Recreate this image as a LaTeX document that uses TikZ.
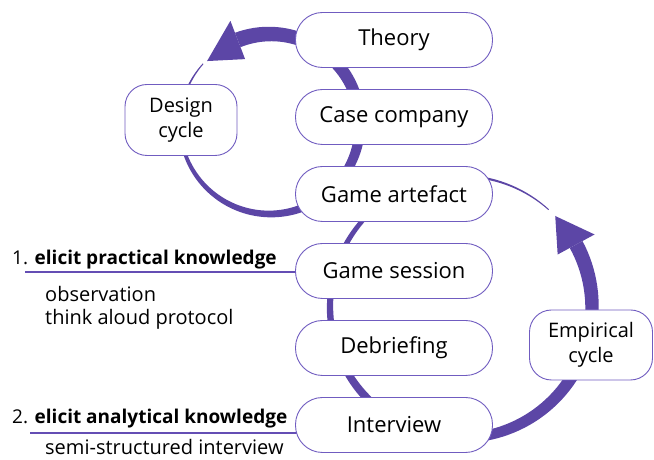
\documentclass[tikz,border=0pt]{standalone}
\usepackage{fontspec}
\setmainfont{Open Sans}

\definecolor{cyclecol}{RGB}{92,70,166}
\definecolor{boxline}{RGB}{112,92,192}
\definecolor{rulecol}{RGB}{100,78,180}

\tikzset{
  stage/.style={draw=boxline, line width=0.9pt, fill=white, rounded corners=27pt,
    minimum width=197pt, minimum height=55pt, font=\fontsize{22}{26}\selectfont},
  cyclebox/.style={draw=boxline, line width=0.9pt, fill=white, rounded corners=22pt,
    minimum height=70pt, align=center, font=\fontsize{20}{25}\selectfont},
  heading/.style={anchor=base west, inner sep=0pt, font=\fontsize{19}{23}\selectfont},
  method/.style={anchor=base west, inner sep=0pt, font=\fontsize{20}{24}\selectfont},
  rule/.style={rulecol, line width=1.6pt},
  % half widths of the two tapering cycle arrows
  declare function={dw(\x)=0.5+7.2*(\x-138)/333;
                    ew(\x)=0.5+6.75*(\x-48)/340.5;}
}

\begin{document}
\begin{tikzpicture}[x=1pt, y=1pt]
  \useasboundingbox (0,0) rectangle (654,460);

  % design cycle arrow
  \fill[cyclecol] plot[domain=138:471, samples=120]
      ({270+(90+dw(\x))*cos(\x)}, {336+(90+dw(\x))*sin(\x)})
    -- plot[domain=471:138, samples=120]
      ({270+(90-dw(\x))*cos(\x)}, {336+(90-dw(\x))*sin(\x)}) -- cycle;
  \begin{scope}[shift={(270,336)}]
    \fill[cyclecol] (111:110.5) -- (135:89) -- (111:69.5) -- cycle;
  \end{scope}

  % empirical cycle arrow
  \fill[cyclecol] plot[domain=48:388.5, samples=140]
      ({461+(131+ew(\x))*cos(\x)}, {153+(131+ew(\x))*sin(\x)})
    -- plot[domain=388.5:48, samples=140]
      ({461+(131-ew(\x))*cos(\x)}, {153+(131-ew(\x))*sin(\x)}) -- cycle;
  \begin{scope}[shift={(461,153)}]
    \fill[cyclecol] (388.5:152) -- (404:131) -- (388.5:110) -- cycle;
  \end{scope}

  % knowledge elicitation labels
  \node[heading] (elicit1) at (12,195) {1. \textbf{elicit practical knowledge}};
  \node[method] (obs) at (45,158) {observation};
  \node[method] (think) at (45,135) {think aloud protocol};
  \node[heading] (elicit2) at (12,36) {2. \textbf{elicit analytical knowledge}};
  \node[method] (semi) at (45,5) {semi-structured interview};

  \coordinate (u1) at (25,188);
  \coordinate (u2) at (30,27);
  \draw[rule] (u1) -- (u1 -| 296,0);
  \draw[rule] (u2) -- (u2 -| 297,0);

  % stages
  \node[stage] (theory) at (394,420) {Theory};
  \node[stage] (case) at (394,343) {Case company};
  \node[stage] (artefact) at (394,266) {Game artefact};
  \node[stage] (session) at (394,189) {Game session};
  \node[stage] (debrief) at (394,112) {Debriefing};
  \node[stage] (interview) at (394,35) {Interview};

  \node[cyclebox, minimum width=112pt, minimum height=71pt] (design) at (181,340) {Design\\cycle};
  \node[cyclebox, minimum width=123pt] (empirical) at (591,115) {Empirical\\cycle};

\end{tikzpicture}
\end{document}
